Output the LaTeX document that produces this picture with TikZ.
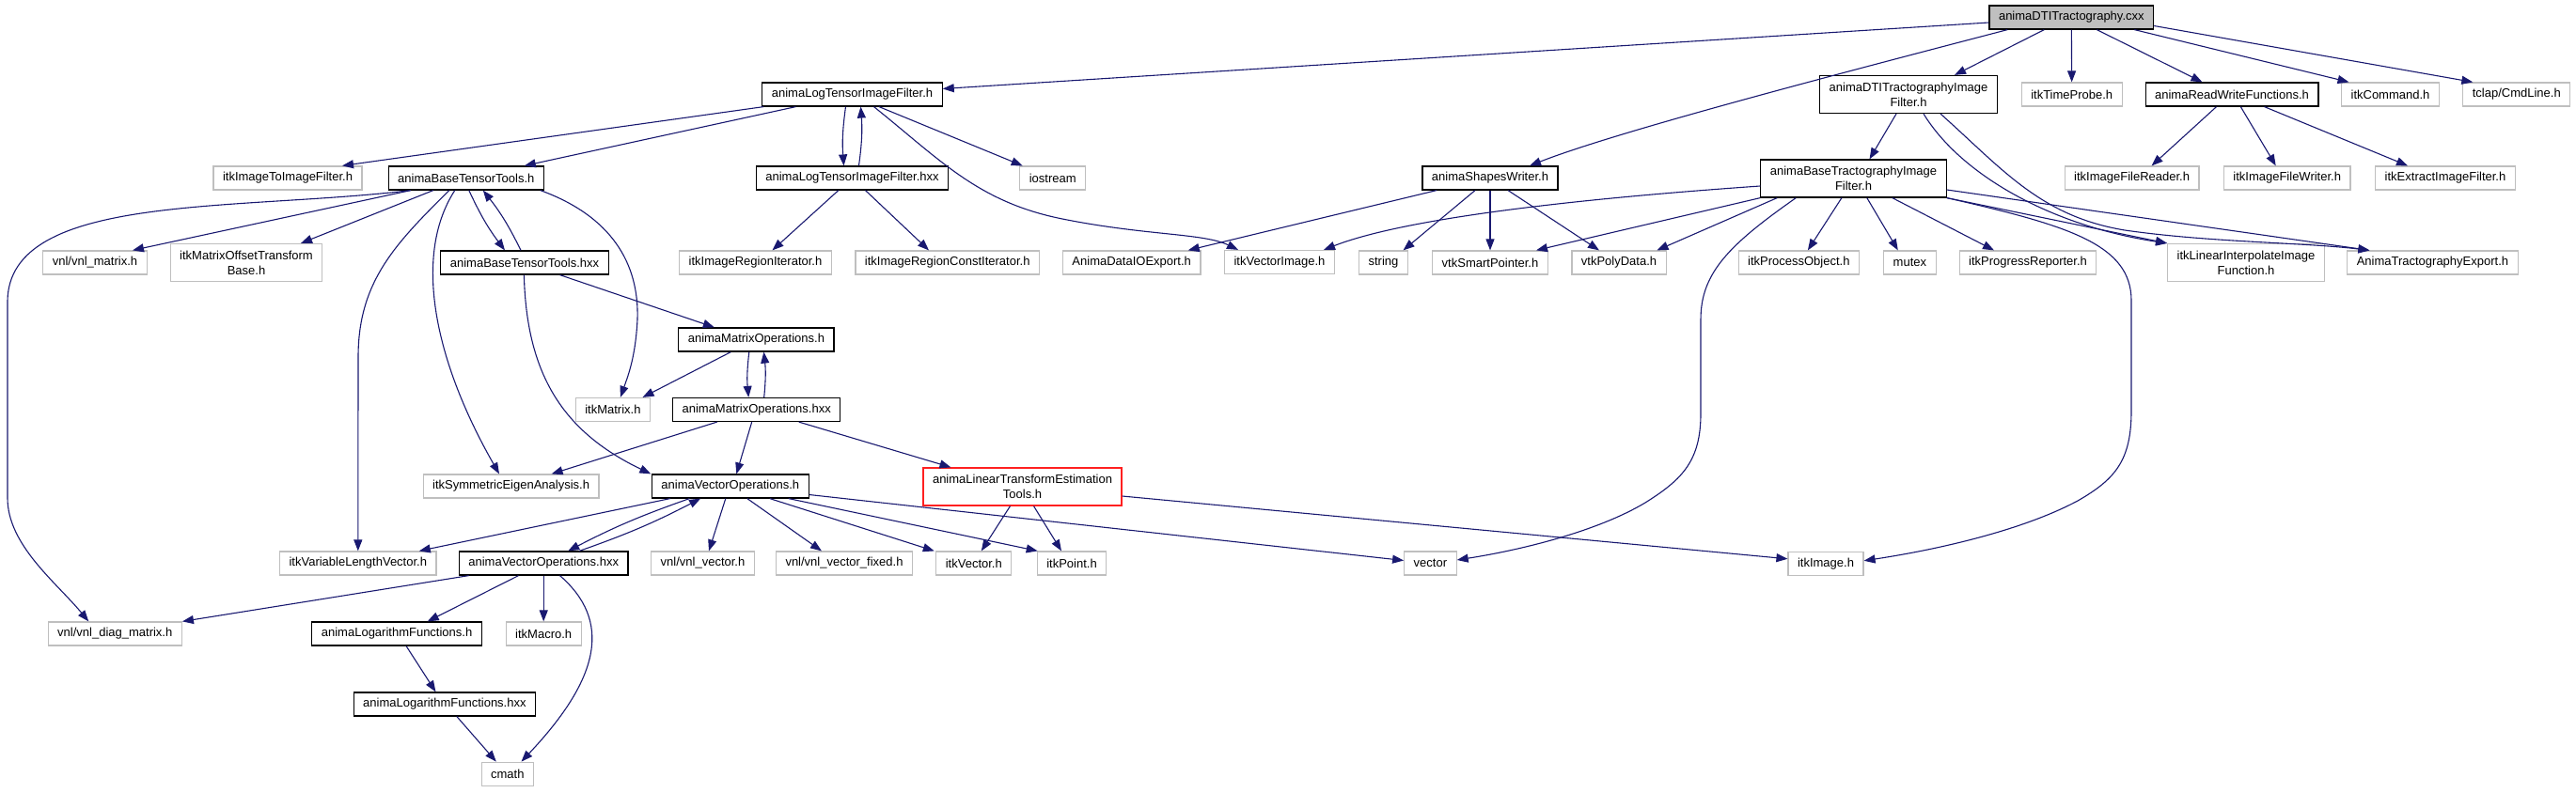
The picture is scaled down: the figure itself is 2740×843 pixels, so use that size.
\documentclass[tikz,border=0pt]{standalone}
\usepackage{fontspec}
\setmainfont{Liberation Sans}
\usepackage{tikz}
\usetikzlibrary{arrows.meta}
\definecolor{edgeblue}{HTML}{191970}
\definecolor{extgray}{HTML}{BFBFBF}
\definecolor{rootgray}{HTML}{BFBFBF}
\definecolor{truncred}{HTML}{FF2020}

\begin{document}
\begin{tikzpicture}[
    x=1pt,
    y=-1pt,
    box/.style={draw, line width=1.2pt, fill=white, font=\fontsize{13}{16}\selectfont, inner xsep=10pt, inner ysep=0pt, minimum height=25pt, align=center},
    file/.style={box, draw=black},
    ext/.style={box, draw=extgray},
    root/.style={box, draw=black, fill=rootgray},
    trunc/.style={box, draw=truncred},
    two/.style={minimum height=40pt},
    inc/.style={edgeblue, line width=1.1pt, -{Triangle[length=12pt, width=9pt]}}
  ]
    \useasboundingbox (0,0) rectangle (2740,843);

    \node[root] (cxx) at (2203.3,18.5) {animaDTITractography.cxx};
    \node[file] (ltif) at (906.5,100.5) {animaLogTensorImageFilter.h};
    \node[file, two] (dtif) at (2030,100.5) {animaDTITractographyImage\\Filter.h};
    \node[ext] (timeprobe) at (2203.7,100.5) {itkTimeProbe.h};
    \node[file] (rwf) at (2374,100.5) {animaReadWriteFunctions.h};
    \node[ext] (command) at (2542.5,100.5) {itkCommand.h};
    \node[ext] (cmdline) at (2676.8,100.5) {tclap/CmdLine.h};

    \node[ext] (imgtoimg) at (306,189.5) {itkImageToImageFilter.h};
    \node[file] (btt) at (495.8,189.5) {animaBaseTensorTools.h};
    \node[file] (ltifhxx) at (906.5,189.5) {animaLogTensorImageFilter.hxx};
    \node[ext] (iostream) at (1119.7,189.5) {iostream};
    \node[file] (shapes) at (1585,189.5) {animaShapesWriter.h};
    \node[file, two] (btif) at (1971.5,190) {animaBaseTractographyImage\\Filter.h};
    \node[ext] (reader) at (2267.6,189.5) {itkImageFileReader.h};
    \node[ext] (writer) at (2432.7,189.5) {itkImageFileWriter.h};
    \node[ext] (extract) at (2601,189.5) {itkExtractImageFilter.h};

    \node[ext] (vnlmatrix) at (101,279.5) {vnl/vnl\_matrix.h};
    \node[ext, two] (matoffset) at (262,279.5) {itkMatrixOffsetTransform\\Base.h};
    \node[file] (btthxx) at (558,279.5) {animaBaseTensorTools.hxx};
    \node[ext] (regioniter) at (803.5,279.5) {itkImageRegionIterator.h};
    \node[ext] (regionconst) at (1007.7,279.5) {itkImageRegionConstIterator.h};
    \node[ext] (dataio) at (1203.7,279.5) {AnimaDataIOExport.h};
    \node[ext] (vecimage) at (1361,279) {itkVectorImage.h};
    \node[ext] (stringh) at (1471.5,279.5) {string};
    \node[ext] (smartptr) at (1585,279.5) {vtkSmartPointer.h};
    \node[ext] (polydata) at (1722,279.5) {vtkPolyData.h};
    \node[ext] (procobj) at (1913.3,279.5) {itkProcessObject.h};
    \node[ext] (mutex) at (2031.4,279.5) {mutex};
    \node[ext] (progress) at (2157,279.5) {itkProgressReporter.h};
    \node[ext, two] (linterp) at (2389,279.5) {itkLinearInterpolateImage\\Function.h};
    \node[ext] (tractexport) at (2587.4,279.5) {AnimaTractographyExport.h};

    \node[file] (matops) at (804.4,361.5) {animaMatrixOperations.h};
    \node[ext] (itkmatrix) at (651.9,436) {itkMatrix.h};
    \node[file] (matopshxx) at (804.7,436) {animaMatrixOperations.hxx};
    \node[ext] (symeig) at (543.6,517.5) {itkSymmetricEigenAnalysis.h};
    \node[file] (vecops) at (776.8,517.5) {animaVectorOperations.h};
    \node[trunc, two] (ltet) at (1087.5,518) {animaLinearTransformEstimation\\Tools.h};

    \node[ext] (vlv) at (380.8,599.5) {itkVariableLengthVector.h};
    \node[file] (vecopshxx) at (578.2,599.5) {animaVectorOperations.hxx};
    \node[ext] (vnlvector) at (747.5,599.5) {vnl/vnl\_vector.h};
    \node[ext] (vnlfixed) at (898,599.5) {vnl/vnl\_vector\_fixed.h};
    \node[ext] (itkvector) at (1035.8,599.5) {itkVector.h};
    \node[ext] (itkpoint) at (1140,599.5) {itkPoint.h};
    \node[ext] (vectorh) at (1521.4,599.5) {vector};
    \node[ext] (itkimage) at (1942,599.8) {itkImage.h};
    \node[ext] (diagmatrix) at (122.3,674.5) {vnl/vnl\_diag\_matrix.h};
    \node[file] (logfun) at (422.1,674.5) {animaLogarithmFunctions.h};
    \node[ext] (macro) at (578.2,674.5) {itkMacro.h};
    \node[file] (logfunhxx) at (472.9,749.5) {animaLogarithmFunctions.hxx};
    \node[ext] (cmath) at (539.8,823.7) {cmath};

    \draw[inc] (cxx) -- (ltif);
    \draw[inc] ([xshift=-68pt]cxx.south) .. controls (1950,80) and (1720,140) .. ([xshift=42pt]shapes.north);
    \draw[inc] ([xshift=-29pt]cxx.south) -- ([xshift=49pt]dtif.north);
    \draw[inc] (cxx) -- (timeprobe);
    \draw[inc] ([xshift=27pt]cxx.south) -- ([xshift=-31.5pt]rwf.north);
    \draw[inc] ([xshift=67pt]cxx.south) -- ([xshift=-44pt]command.north);
    \draw[inc] ([yshift=-9pt]cxx.east) -- ([xshift=-46.5pt]cmdline.north);

    \draw[inc] ([xshift=2pt]ltif.south west) -- ([xshift=58pt]imgtoimg.north);
    \draw[inc] ([xshift=-60pt]ltif.south) -- ([xshift=62pt]btt.north);
    \draw[inc] ([xshift=-7pt]ltif.south) to[bend right=6] ([xshift=-9pt]ltifhxx.north);
    \draw[inc] ([xshift=7pt]ltifhxx.north) to[bend right=6] ([xshift=9pt]ltif.south);
    \draw[inc] ([xshift=28.5pt]ltif.south) -- ([xshift=-32pt]iostream.north);
    \draw[inc] ([xshift=23pt]ltif.south) .. controls (1000,170) and (1040,215) .. (1130,233)
      .. controls (1220,251) and (1280,248) .. ([xshift=-44pt]vecimage.north);
    \draw[inc] ([xshift=-14.7pt]ltifhxx.south) -- ([xshift=18pt]regioniter.north);
    \draw[inc] ([xshift=14pt]ltifhxx.south) -- ([xshift=-19.7pt]regionconst.north);

    \draw[inc] ([xshift=-59pt]btt.south) -- ([xshift=40pt]vnlmatrix.north);
    \draw[inc] ([xshift=-59pt]btt.south) .. controls (250,225) and (10,205) .. (8,320)
      -- (8,530) .. controls (8,580) and (60,620) .. ([xshift=-28pt]diagmatrix.north);
    \draw[inc] ([xshift=-35pt]btt.south) -- ([xshift=58pt]matoffset.north);
    \draw[inc] ([xshift=-18pt]btt.south) .. controls (420,260) and (381,300) .. (381,380) -- (vlv.north);
    \draw[inc] ([xshift=-12pt]btt.south) .. controls (440,270) and (460,380) .. ([xshift=-12.6pt]symeig.north);
    \draw[inc] ([xshift=3pt]btt.south) to[bend right=6] ([xshift=-21pt]btthxx.north);
    \draw[inc] ([xshift=-4pt]btthxx.north) to[bend right=6] ([xshift=18pt]btt.south);
    \draw[inc] ([xshift=79pt]btt.south) .. controls (650,230) and (680,280) .. (678,340)
      .. controls (676,380) and (668,400) .. ([xshift=8pt]itkmatrix.north);

    \draw[inc] ([xshift=37.5pt]btthxx.south) -- ([xshift=-44.6pt]matops.north);
    \draw[inc] ([xshift=-0.6pt]btthxx.south) .. controls (560,400) and (600,460) .. ([xshift=-84.5pt]vecops.north);

    \draw[inc] ([xshift=-27pt]matops.south) -- ([xshift=31.6pt]itkmatrix.north);
    \draw[inc] ([xshift=-7.6pt]matops.south) to[bend right=6] ([xshift=-8.5pt]matopshxx.north);
    \draw[inc] ([xshift=8pt]matopshxx.north) to[bend right=6] ([xshift=8pt]matops.south);
    \draw[inc] ([xshift=-42pt]matopshxx.south) -- ([xshift=43pt]symeig.north);
    \draw[inc] ([xshift=-5pt]matopshxx.south) -- ([xshift=6.5pt]vecops.north);
    \draw[inc] ([xshift=45pt]matopshxx.south) -- ([xshift=-76pt]ltet.north);

    \draw[inc] ([xshift=-64pt]vecops.south) -- ([xshift=65pt]vlv.north);
    \draw[inc] ([xshift=-43.4pt]vecops.south) to[bend right=4] ([xshift=26pt]vecopshxx.north);
    \draw[inc] ([xshift=38pt]vecopshxx.north) to[bend right=4] ([xshift=-31.7pt]vecops.south);
    \draw[inc] ([xshift=-5pt]vecops.south) -- ([xshift=6.5pt]vnlvector.north);
    \draw[inc] ([xshift=18pt]vecops.south) -- ([xshift=-24pt]vnlfixed.north);
    \draw[inc] ([xshift=42pt]vecops.south) -- ([xshift=-42pt]itkvector.north);
    \draw[inc] ([xshift=62pt]vecops.south) -- ([xshift=1pt]itkpoint.north west);
    \draw[inc] ([yshift=-9pt]vecops.east) -- ([yshift=3pt]vectorh.west);

    \draw[inc] ([xshift=-79.5pt]vecopshxx.south) -- (diagmatrix.north east);
    \draw[inc] ([xshift=-26.7pt]vecopshxx.south) -- ([xshift=32.6pt]logfun.north);
    \draw[inc] (vecopshxx) -- (macro);
    \draw[inc] ([xshift=17.3pt]vecopshxx.south) .. controls (650,660) and (640,720) .. ([xshift=14.7pt]cmath.north);
    \draw[inc] ([xshift=10pt]logfun.south) -- ([xshift=-9.4pt]logfunhxx.north);
    \draw[inc] ([xshift=13pt]logfunhxx.south) -- ([xshift=-12pt]cmath.north);

    \draw[inc] ([xshift=-13pt]ltet.south) -- ([xshift=8pt]itkvector.north);
    \draw[inc] ([xshift=12pt]ltet.south) -- ([xshift=-11pt]itkpoint.north);
    \draw[inc] ([yshift=-10pt]ltet.east) -- ([yshift=5pt]itkimage.west);

    \draw[inc] ([xshift=-57pt]shapes.south) -- ([xshift=60pt]dataio.north);
    \draw[inc] ([xshift=-16pt]shapes.south) -- ([xshift=21pt]stringh.north);
    \draw[inc] (shapes) -- (smartptr);
    \draw[inc] ([xshift=19pt]shapes.south) -- ([xshift=-21pt]polydata.north);

    \draw[inc] ([xshift=-13pt]dtif.south) -- ([xshift=17pt]btif.north);
    \draw[inc] ([xshift=16pt]dtif.south) .. controls (2085,185) and (2180,240) .. (linterp.north west);
    \draw[inc] ([xshift=34pt]dtif.south) .. controls (2130,180) and (2170,230) .. (2260,245)
      .. controls (2350,258) and (2450,258) .. ([xshift=-67pt]tractexport.north);

    \draw[inc] ([yshift=-8pt]btif.west) .. controls (1700,210) and (1500,230) .. ([xshift=47pt]vecimage.north);
    \draw[inc] (btif.south west) -- ([xshift=49pt]smartptr.north);
    \draw[inc] ([xshift=18pt]btif.south west) -- ([xshift=40.5pt]polydata.north);
    \draw[inc] ([xshift=38pt]btif.south west) .. controls (1840,260) and (1809,290) .. (1809,340)
      -- (1809,440) .. controls (1809,490) and (1790,510) .. (1750,535)
      .. controls (1700,565) and (1620,585) .. ([yshift=3.5pt]vectorh.east);
    \draw[inc] ([xshift=-12.6pt]btif.south) -- ([xshift=9.6pt]procobj.north);
    \draw[inc] ([xshift=14.3pt]btif.south) -- ([xshift=-12.6pt]mutex.north);
    \draw[inc] ([xshift=41.3pt]btif.south) -- ([xshift=-36pt]progress.north);
    \draw[inc] (btif.south east) -- (linterp.north west);
    \draw[inc] ([yshift=-12pt]btif.east) -- ([xshift=-67pt]tractexport.north);
    \draw[inc] (btif.south east) .. controls (2200,240) and (2267,260) .. (2267,320)
      -- (2267,437) .. controls (2267,490) and (2250,510) .. (2210,533)
      .. controls (2150,565) and (2060,585) .. ([yshift=3pt]itkimage.east);

    \draw[inc] ([xshift=-16.5pt]rwf.south) -- ([xshift=21pt]reader.north);
    \draw[inc] ([xshift=9.3pt]rwf.south) -- ([xshift=-12pt]writer.north);
    \draw[inc] ([xshift=34.5pt]rwf.south) -- ([xshift=-40pt]extract.north);
  \end{tikzpicture}
\end{document}
